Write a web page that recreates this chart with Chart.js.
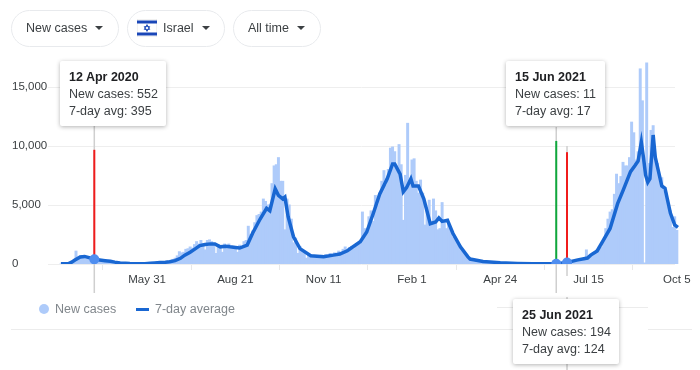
<!DOCTYPE html>
<html lang="en">
<head>
<meta charset="UTF-8">
<title>New cases - Israel</title>
<script src="https://cdn.jsdelivr.net/npm/chart.js"></script>
<style>
    html, body { margin: 0; padding: 0; background: #fff; }
    body { width: 700px; height: 370px; position: relative; overflow: hidden; font-family: "Liberation Sans", Arial, sans-serif; font-size: 12.5px; color: #3c4043; }
    canvas { position: absolute; left: 0; top: 0; }
    .pill { position: absolute; top: 10px; height: 35px; border: 1px solid #e8eaed; border-radius: 19px; line-height: 35px; box-sizing: content-box; }
    .pill span { position: absolute; top: 0; white-space: nowrap; }
    .pill i { position: absolute; top: 15px; width: 0; height: 0; border-left: 4px solid transparent; border-right: 4px solid transparent; border-top: 4px solid #3c4043; }
    .flag { position: absolute; left: 137px; top: 19px; }
    .tip { position: absolute; height: 65px; background: #fff; border-radius: 2px; box-shadow: 0 1px 4px rgba(0,0,0,.3); white-space: nowrap; line-height: 17px; padding: 7px 0 0 9px; box-sizing: border-box; }
    .tip b { display: block; color: #202124; line-height: 18px; }
    .legend { position: absolute; top: 301px; color: #80868b; line-height: 16px; white-space: nowrap; }
    .dot { position: absolute; left: 39px; top: 304px; width: 10px; height: 10px; border-radius: 50%; background: #aecbfa; }
    .dash { position: absolute; left: 136px; top: 308px; width: 13px; height: 3px; background: #1967d2; }
</style>
</head>
<body>
<canvas id="chart" width="700" height="370"></canvas>

<div class="pill" style="left:11px;width:106px"><span style="left:14px">New cases</span><i style="left:83px"></i></div>
<div class="pill" style="left:127px;width:96px"><span style="left:35px">Israel</span><i style="left:74px"></i></div>
<div class="pill" style="left:233px;width:86px"><span style="left:14px">All time</span><i style="left:63px"></i></div>
<svg class="flag" width="20" height="18" viewBox="0 0 20 18">
    <rect width="20" height="18" fill="#fff" stroke="#e3e3e3"/>
    <rect y="1.5" width="20" height="3" fill="#1a47b8"/>
    <rect y="13.5" width="20" height="3" fill="#1a47b8"/>
    <path d="M10 5.6l2.7 4.8H7.3zM10 12.4l2.7-4.8H7.3z" fill="none" stroke="#1a47b8" stroke-width=".9"/>
</svg>

<div class="tip" style="left:60px;top:61px;width:106px"><b>12 Apr 2020</b>New cases: 552<br>7-day avg: 395</div>
<div class="tip" style="left:506px;top:61px;width:99px"><b>15 Jun 2021</b>New cases: 11<br>7-day avg: 17</div>

<div class="dot"></div>
<div class="legend" style="left:55px">New cases</div>
<div class="dash"></div>
<div class="legend" style="left:155px">7-day average</div>

<script>
    // x axis is days since 11 Mar 2020
    var tickDays = [81, 163, 245, 327, 409, 491, 573];
    var tickLabels = ['May 31', 'Aug 21', 'Nov 11', 'Feb 1', 'Apr 24', 'Jul 15', 'Oct 5'];
    var yTicks = [0, 5000, 10000, 15000];

    // new cases, every second day starting at day 1
    var casesFirstDay = 1;
    var casesStep = 2;
    var newCases = [
        10, 20, 30, 50, 90, 150, 300, 1100, 600, 700,
        700, 680, 650, 600, 550, 500, 552, 420, 350, 320,
        270, 240, 200, 190, 150, 120, 90, 70, 60, 50,
        30, 20, 20, 15, 15, 15, 15, 20, 20, 20,
        30, 70, 90, 110, 130, 130, 150, 170, 190, 220,
        250, 300, 400, 500, 700, 1050, 950, 1000, 1250, 1300,
        1450, 1350, 1650, 1900, 1700, 2000, 1700, 1200, 2000, 2050,
        1900, 1600, 900, 1650, 1500, 1000, 1700, 1300, 1700, 1400,
        1500, 1350, 1000, 1600, 1400, 1900, 2000, 3200, 2500, 2800,
        3500, 4100, 4200, 4400, 5500, 5300, 5000, 5000, 6800, 8300,
        8400, 9000, 7000, 7000, 2900, 5500, 5000, 3800, 1800, 2200,
        900, 1500, 1100, 900, 500, 800, 800, 650, 700, 650,
        550, 750, 700, 800, 700, 900, 800, 950, 900, 1100,
        1000, 1250, 1450, 1200, 1400, 1500, 1300, 1650, 1600, 1700,
        4400, 3000, 2800, 4000, 4500, 3600, 5800, 5000, 6000, 7000,
        7900, 6700, 8000, 9800, 9900, 9500, 8300, 10100, 8400, 3700,
        7500, 11900, 7000, 8800, 8900, 7000, 6000, 7100, 6000, 3300,
        4800, 5400, 3300, 5500, 4500, 2900, 3000, 5200, 3700, 3000,
        3500, 2800, 2300, 2300, 1900, 1500, 1100, 900, 700, 500,
        420, 350, 300, 260, 240, 200, 180, 160, 140, 130,
        120, 110, 100, 95, 90, 80, 70, 60, 55, 50,
        45, 40, 35, 30, 30, 25, 25, 20, 20, 20,
        20, 15, 15, 15, 15, 15, 15, 15, 12, 12,
        11, 15, 30, 60, 90, 194, 200, 250, 300, 350,
        400, 450, 400, 450, 1200, 700, 800, 900, 1000, 1250,
        1500, 1400, 2000, 3000, 3800, 4400, 4600, 5900, 7600, 6800,
        7400, 8600, 8300, 8300, 9000, 12000, 11100, 8800, 9500, 16500,
        13800, 100, 17000, 8500, 11300, 11700, 9000, 8500, 7200, 7300,
        6200, 6000, 4800, 4500, 3100, 4000, 2850
    ];

    // 7-day average at the bends of the line
    var avgDays = [
        1, 8, 11, 14, 19, 23, 28, 32, 37, 42, 47, 51, 56, 61, 65, 70, 75, 79, 84, 88,
        93, 98, 102, 107, 112, 116, 121, 126, 130, 135, 140, 144, 149, 154, 158, 163, 167, 174, 179, 186,
        192, 195, 200, 203, 207, 209, 212, 217, 223, 233, 245, 254, 260, 267, 279, 285, 291, 297, 304, 309,
        311, 316, 319, 322, 326, 328, 333, 338, 344, 349, 352, 355, 360, 365, 372, 379, 381, 393, 409, 425,
        439, 461, 471, 480, 490, 493, 499, 504, 511, 518, 523, 530, 534, 537, 540, 542, 544, 546, 548, 551,
        553, 556, 559, 562, 567, 571, 574
    ];
    var avgValues = [
        20, 40, 150, 340, 600, 640, 520, 395, 340, 280, 230, 160, 90, 60, 35, 20, 15, 20, 60, 90,
        120, 150, 190, 280, 480, 750, 1000, 1300, 1550, 1650, 1700, 1700, 1450, 1500, 1450, 1400, 1350, 1600, 2600, 3800,
        4700, 4500, 6350, 5800, 5500, 5650, 4000, 2300, 1300, 700, 620, 750, 840, 1120, 1880, 2700, 4250, 5900, 7200, 8450,
        8450, 7600, 6100, 6450, 7200, 6600, 6600, 5500, 3400, 3550, 3900, 3600, 3700, 2600, 1450, 600, 420, 220, 110, 50,
        20, 17, 124, 330, 500, 750, 1100, 1900, 3000, 5100, 6200, 7800, 8300, 8700, 10300, 9000, 7500, 6900, 7200, 10900,
        9000, 7800, 6600, 6400, 4300, 3300, 3100
    ];

    // hovered days: Apr 12 2020, Jun 15 2021, Jun 25 2021
    var markerDays = [32, 461, 471];
    var markerAvg = [395, 17, 124];
    var markerTops = [9650, 10400, 9450];
    var markerColors = ['#f01c1c', '#0fa83c', '#f01c1c'];

    var guides = {
        id: 'guides',
        beforeDatasetsDraw: function (chart) {
            var c = chart.ctx;
            var x = chart.scales.x;
            var y = chart.scales.y;
            c.save();

            // horizontal grid stops a little short of the last bars
            c.strokeStyle = '#eeeeee';
            c.lineWidth = 1;
            yTicks.forEach(function (t) {
                var py = Math.round(y.getPixelForValue(t)) + 0.5;
                c.beginPath();
                c.moveTo(48, py);
                c.lineTo(675, py);
                c.stroke();
            });

            // rules below the chart
            c.strokeStyle = '#ececec';
            [[497, 648, 307.5], [11, 513, 329.5], [648, 692, 329.5]].forEach(function (r) {
                c.beginPath();
                c.moveTo(r[0], r[2]);
                c.lineTo(r[1], r[2]);
                c.stroke();
            });

            // grey hover lines
            c.strokeStyle = '#cfcfcf';
            c.lineWidth = 1.5;
            var greys = [[0, 125, 293], [1, 127, 293], [2, 146, 276], [2, 297, 370]];
            greys.forEach(function (g) {
                var px = x.getPixelForValue(markerDays[g[0]]);
                c.beginPath();
                c.moveTo(px, g[1]);
                c.lineTo(px, g[2]);
                c.stroke();
            });

            // coloured lines
            c.lineWidth = 2;
            markerDays.forEach(function (d, i) {
                var px = x.getPixelForValue(d);
                c.strokeStyle = markerColors[i];
                c.beginPath();
                c.moveTo(px, y.getPixelForValue(markerTops[i]));
                c.lineTo(px, y.getPixelForValue(0));
                c.stroke();
            });
            c.restore();
        }
    };

    new Chart(document.getElementById('chart'), {
        data: {
            datasets: [
                {
                    type: 'line',
                    data: markerDays.map(function (d, i) { return { x: d, y: markerAvg[i] }; }),
                    showLine: false,
                    pointRadius: 5,
                    pointBackgroundColor: '#4f8ef0',
                    pointBorderWidth: 0,
                    order: 0
                },
                {
                    type: 'line',
                    data: avgDays.map(function (d, i) { return { x: d, y: avgValues[i] }; }),
                    borderColor: '#1967d2',
                    borderWidth: 3.5,
                    pointRadius: 0,
                    tension: 0,
                    order: 1
                },
                {
                    type: 'bar',
                    data: newCases.map(function (v, i) { return { x: casesFirstDay + i * casesStep, y: v }; }),
                    backgroundColor: '#aecbfa',
                    barThickness: 2.3,
                    order: 2
                }
            ]
        },
        options: {
            responsive: false,
            animation: false,
            events: [],
            layout: { padding: { left: 12, right: 21, top: 51, bottom: 0 } },
            plugins: { legend: { display: false }, tooltip: { enabled: false } },
            scales: {
                x: {
                    type: 'linear',
                    min: -11,
                    max: 575,
                    offset: false,
                    afterFit: function (s) { s.height = 106; },
                    afterBuildTicks: function (s) {
                        s.ticks = tickDays.map(function (d) { return { value: d }; });
                    },
                    border: { display: false },
                    grid: { drawOnChartArea: false, drawTicks: true, tickLength: 6, color: '#e8e8e8' },
                    ticks: {
                        autoSkip: false,
                        maxRotation: 0,
                        padding: 3,
                        color: '#3c4043',
                        font: { family: '"Liberation Sans"', size: 11.5 },
                        callback: function (v) { return tickLabels[tickDays.indexOf(v)]; }
                    }
                },
                y: {
                    min: 0,
                    max: 18000,
                    afterFit: function (s) { s.width = 36; },
                    afterBuildTicks: function (s) {
                        s.ticks = yTicks.map(function (t) { return { value: t }; });
                    },
                    border: { display: false },
                    grid: { display: false },
                    ticks: {
                        crossAlign: 'far',
                        padding: 0,
                        color: '#3c4043',
                        font: { family: '"Liberation Sans"', size: 11.5 },
                        callback: function (v) { return v.toLocaleString('en-US'); }
                    }
                }
            }
        },
        plugins: [guides]
    });
</script>

<div class="tip" style="left:513px;top:299px;width:106px"><b>25 Jun 2021</b>New cases: 194<br>7-day avg: 124</div>
</body>
</html>
